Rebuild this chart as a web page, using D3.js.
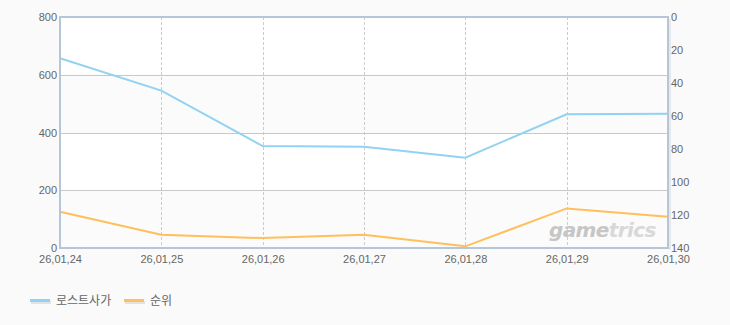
<!DOCTYPE html>
<html><head><meta charset="utf-8">
<script src="https://cdn.jsdelivr.net/npm/d3@7"></script>
<style>
html,body{margin:0;padding:0;background:#fafafa;}
svg{display:block;font-family:"Liberation Sans","DejaVu Sans",sans-serif;}
</style></head>
<body><svg id="c" width="730" height="325"></svg>
<script>
const categories = ["26,01,24","26,01,25","26,01,26","26,01,27","26,01,28","26,01,29","26,01,30"];
const salesValues = [657, 545, 353, 351, 313, 463, 465];
const rankValues = [118, 132, 134, 132, 139, 116, 121];
const leftTicks = [0, 200, 400, 600, 800];
const rightTicks = [0, 20, 40, 60, 80, 100, 120, 140];
const seriesNames = ["로스트사가", "순위"];
const colors = ["#92d2f2", "#ffbf5c"];

const svg = d3.select("#c");
const L = 60, R = 668, T = 17, B = 248;
const x = d3.scalePoint().domain(categories).range([L, R]);
const yL = d3.scaleLinear().domain([0, 800]).range([B, T]);
const yR = d3.scaleLinear().domain([0, 140]).range([T, B]);

// bands
for (let i = 0; i < leftTicks.length - 1; i++) {
  const a = leftTicks[i], b = leftTicks[i + 1];
  svg.append("rect").attr("x", L).attr("width", R - L)
    .attr("y", yL(b)).attr("height", yL(a) - yL(b))
    .attr("fill", i % 2 === 0 ? "#fbfbfb" : "#ffffff");
}
// shadow right
svg.append("rect").attr("x", R + 1).attr("y", T + 2).attr("width", 2).attr("height", B - T)
  .attr("fill", "#e8e8e8");

// horizontal grid
svg.append("g").selectAll("line").data(leftTicks.slice(1, -1)).join("line")
  .attr("x1", L).attr("x2", R).attr("y1", d => Math.round(yL(d)) + 0.5).attr("y2", d => Math.round(yL(d)) + 0.5)
  .attr("stroke", "#c8c8c8").attr("stroke-width", 1);
// vertical dashed grid
svg.append("g").selectAll("line").data(categories.slice(1, -1)).join("line")
  .attr("x1", d => Math.round(x(d)) + 0.5).attr("x2", d => Math.round(x(d)) + 0.5)
  .attr("y1", T).attr("y2", B)
  .attr("stroke", "#cccccc").attr("stroke-dasharray", "3,2");

// watermark
const wm = svg.append("text").attr("x", 549).attr("y", 237)
  .attr("font-family", "'DejaVu Sans', sans-serif").attr("font-weight", "bold")
  .attr("font-style", "italic").attr("font-size", 20).attr("letter-spacing", -0.6);
wm.append("tspan").attr("fill", "#c6c6c6").text("game");
wm.append("tspan").attr("fill", "#d8d8d8").text("trics");

// lines
const lineL = d3.line().x((d, i) => x(categories[i])).y(d => yL(d));
const lineR = d3.line().x((d, i) => x(categories[i])).y(d => yR(d));
svg.append("path").datum(salesValues).attr("d", lineL).attr("fill", "none")
  .attr("stroke", colors[0]).attr("stroke-width", 2);
svg.append("path").datum(rankValues).attr("d", lineR).attr("fill", "none")
  .attr("stroke", colors[1]).attr("stroke-width", 2);

// frame
svg.append("rect").attr("x", L).attr("y", T).attr("width", R - L).attr("height", B - T)
  .attr("fill", "none").attr("stroke", "#b4c6d8").attr("stroke-width", 2);

// axes
const axL = d3.axisLeft(yL).tickValues(leftTicks).tickSize(0).tickPadding(3);
const axR = d3.axisRight(yR).tickValues(rightTicks).tickSize(0).tickPadding(3);
const axB = d3.axisBottom(x).tickSize(0).tickPadding(7);
function style(g) {
  g.select(".domain").remove();
  g.selectAll("text").attr("fill", "#666").attr("font-size", 11)
    .attr("font-family", "'Liberation Sans', 'DejaVu Sans', sans-serif");
}
svg.append("g").attr("transform", `translate(${L},0)`).call(axL).call(style);
svg.append("g").attr("transform", `translate(${R},0)`).call(axR).call(style);
svg.append("g").attr("transform", `translate(0,${B})`).call(axB).call(style);

// legend
const lg = [{x: 30}, {x: 124}];
seriesNames.forEach((n, i) => {
  const g = svg.append("g").attr("transform", `translate(${lg[i].x},301)`);
  g.append("rect").attr("x", 1).attr("y", 0).attr("width", 20).attr("height", 3).attr("fill", "#e2e2e2");
  g.append("rect").attr("x", 0).attr("y", -2).attr("width", 20).attr("height", 3).attr("fill", colors[i]);
  g.append("text").attr("x", 26).attr("y", 4).attr("fill", "#666").attr("font-size", 12)
    .attr("font-family", "'Noto Sans CJK KR', sans-serif").text(n);
});
</script></body></html>
